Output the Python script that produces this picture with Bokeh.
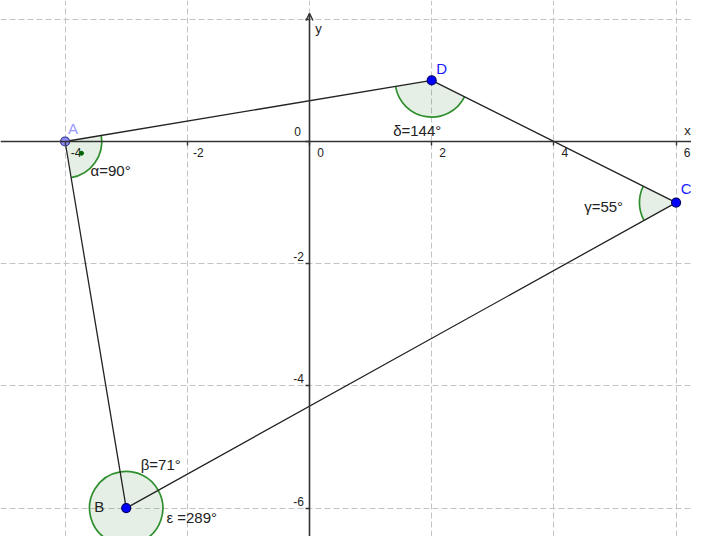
import numpy as np
from bokeh.plotting import figure
from bokeh.models import (LinearAxis, FixedTicker, Grid, Range1d, ColumnDataSource,
                          Arrow, OpenHead)
from bokeh.core.properties import value
from bokeh.embed import file_html
from bokeh.resources import INLINE

# ---------------- data ----------------
point_names = ["A", "B", "C", "D"]
point_x = [-4.0, -3.0, 6.0, 2.0]
point_y = [0.0, -6.0, -1.0, 1.0]
polygon_path = ["A", "D", "C", "B", "A"]

angle_vertex = ["A", "B", "C", "D", "B"]
angle_start = ["B", "C", "D", "A", "A"]   # counter-clockwise from this neighbour
angle_end = ["D", "A", "B", "C", "C"]     # ... to this neighbour
angle_labels = ["α=90°", "β=71°", "γ=55°", "δ=144°", "ε =289°"]

x_ticks = [-4, -2, 0, 2, 4, 6]
x_tick_labels = ["-4", "-2", "0", "2", "4", "6"]
y_ticks = [-6, -4, -2, 0, 2]
y_label_ticks = [-6, -4, -2, 0]
y_tick_labels = ["-6", "-4", "-2", "0"]

# ---------------- style ----------------
FONT = value("Liberation Sans")
PX_PER_UNIT = 61.1
W, H = 691, 536
ORIGIN_PX = (309, 141)  # origin position inside the figure (px)
x0 = -ORIGIN_PX[0] / PX_PER_UNIT
x1 = (W - ORIGIN_PX[0]) / PX_PER_UNIT
y1 = ORIGIN_PX[1] / PX_PER_UNIT
y0 = -(H - ORIGIN_PX[1]) / PX_PER_UNIT
ANGLE_R = 0.6
Y_ARROW_TIP = y1 - 13 / PX_PER_UNIT

point_label_off = {"A": (8, -13), "B": (-27, -2), "C": (10, -14), "D": (10, -12)}
point_label_col = {"A": "#9999ff", "B": "#222222", "C": "#1a1aff", "D": "#1a1aff"}
point_fill = {"A": "#8c8cff", "B": "#0000ff", "C": "#0000ff", "D": "#0000ff"}
point_line = {"A": "#30307a", "B": "#000066", "C": "#000066", "D": "#000066"}
angle_label_off = [(45.5, 29), (34.5, -44), (-72.5, 4), (-14.5, 50), (65.5, 9)]

pos = {n: (x, y) for n, x, y in zip(point_names, point_x, point_y)}

p = figure(width=W, height=H, output_backend="svg", toolbar_location=None,
           x_range=Range1d(x0, x1), y_range=Range1d(y0, y1),
           x_axis_type=None, y_axis_type=None, min_border=0,
           outline_line_color=None, background_fill_color="white")

# grids
for dim, ticks in ((0, x_ticks), (1, y_ticks)):
    g = Grid(dimension=dim, ticker=FixedTicker(ticks=ticks),
             grid_line_color="#c4c4c4", grid_line_dash="6 3", grid_line_width=1)
    p.add_layout(g)

# axes through the origin
axis_style = dict(axis_line_color="#333333", axis_line_width=1.6,
                  major_tick_line_color="#333333", major_tick_line_width=1.4,
                  major_tick_out=4, major_tick_in=0,
                  minor_tick_out=0, minor_tick_in=0,
                  major_label_text_alpha=0, major_label_text_font_size="1px")
xaxis = LinearAxis(fixed_location=0, ticker=FixedTicker(ticks=x_ticks, minor_ticks=[]),
                   **axis_style)
yaxis = LinearAxis(fixed_location=0, ticker=FixedTicker(ticks=y_ticks, minor_ticks=[]),
                   bounds=(y0, Y_ARROW_TIP), **axis_style)
p.add_layout(xaxis, "below")
p.add_layout(yaxis, "left")

# arrow head at the top of the y axis
p.add_layout(Arrow(x_start=0, y_start=y1 - 1.0, x_end=0, y_end=Y_ARROW_TIP,
                   line_alpha=0,
                   end=OpenHead(size=7, line_color="#333333", line_width=1.5)))

# tick labels
p.text(x=x_ticks, y=[0] * len(x_ticks), text=x_tick_labels, x_offset=11, y_offset=11,
       text_align="center", text_baseline="middle", text_font=FONT,
       text_font_size="12px", text_color="#222222")
p.text(x=[0] * len(y_label_ticks), y=y_label_ticks, text=y_tick_labels,
       x_offset=[-11, -11, -11, -12], y_offset=[-7, -7, -7, -10],
       text_align="center", text_baseline="middle", text_font=FONT,
       text_font_size="12px", text_color="#222222")
p.text(x=[x1, 0], y=[0, y1], text=["x", "y"], x_offset=[-4, 9], y_offset=[-11, 28],
       text_align="center", text_baseline="middle", text_font=FONT,
       text_font_size="13px", text_color="#222222")

# angles
def direction(a, b):
    return np.arctan2(pos[b][1] - pos[a][1], pos[b][0] - pos[a][0])

ang_src = dict(x=[], y=[], s=[], e=[], label=[], dx=[], dy=[])
for v, s, e, lab, off in zip(angle_vertex, angle_start, angle_end, angle_labels,
                              angle_label_off):
    a0 = direction(v, s)
    a1 = direction(v, e)
    if a1 <= a0:
        a1 += 2 * np.pi
    ang_src["x"].append(pos[v][0]); ang_src["y"].append(pos[v][1])
    ang_src["s"].append(a0); ang_src["e"].append(a1)
    ang_src["label"].append(lab); ang_src["dx"].append(off[0]); ang_src["dy"].append(off[1])
asrc = ColumnDataSource(ang_src)
p.wedge(x="x", y="y", radius=ANGLE_R, start_angle="s", end_angle="e",
        direction="anticlock", source=asrc, fill_color="#006400", fill_alpha=0.1,
        line_color=None)
p.arc(x="x", y="y", radius=ANGLE_R, start_angle="s", end_angle="e",
      direction="anticlock", source=asrc, line_color="#2f8f2f", line_width=1.7)

# right-angle dots
dot_x, dot_y = [], []
for x, y, a0, a1 in zip(ang_src["x"], ang_src["y"], ang_src["s"], ang_src["e"]):
    if abs(np.degrees(a1 - a0) - 90) < 0.5:
        mid = (a0 + a1) / 2
        dot_x.append(x + 0.33 * np.cos(mid)); dot_y.append(y + 0.33 * np.sin(mid))
p.scatter(dot_x, dot_y, size=4, fill_color="#006400", line_color="#006400")

# polygon
p.line([pos[n][0] for n in polygon_path], [pos[n][1] for n in polygon_path],
       line_color="#222222", line_width=1.3)

# angle labels
p.text(x="x", y="y", text="label", x_offset="dx", y_offset="dy", source=asrc,
       text_align="center", text_baseline="middle", text_font=FONT,
       text_font_size="15px", text_color="#222222")

# points
psrc = ColumnDataSource(dict(
    x=point_x, y=point_y, name=point_names,
    fill=[point_fill[n] for n in point_names],
    line=[point_line[n] for n in point_names],
    lcol=[point_label_col[n] for n in point_names],
    dx=[point_label_off[n][0] for n in point_names],
    dy=[point_label_off[n][1] for n in point_names]))
p.scatter(x="x", y="y", size=9, fill_color="fill", line_color="line", line_width=1.2,
          source=psrc)
p.text(x="x", y="y", text="name", x_offset="dx", y_offset="dy", source=psrc,
       text_align="center", text_baseline="middle", text_font=FONT,
       text_font_size="15px", text_color="lcol")

open("out.html", "w").write(file_html(p, INLINE))
